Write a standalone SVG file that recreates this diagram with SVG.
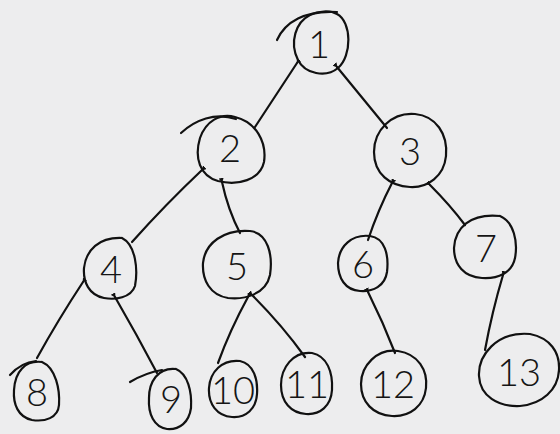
<svg xmlns="http://www.w3.org/2000/svg" width="560" height="434" viewBox="0 0 560 434">
  <style>
    .ring { fill: none; stroke: #111; stroke-width: 2.2; stroke-linecap: round; }
    .edge { fill: none; stroke: #111; stroke-width: 2.2; stroke-linecap: round; marker-start: url(#tip); }
    .num { font-family: "Lato", "Liberation Sans", sans-serif; font-weight: 300; font-size: 38px; fill: #151515; text-anchor: middle; }
  </style>
  <defs>
    <marker id="tip" viewBox="0 0 10 10" refX="2" refY="5" markerWidth="5" markerHeight="5" orient="auto-start-reverse" markerUnits="userSpaceOnUse">
      <path d="M10,0 L0,5 L10,10 z" fill="#111"/>
    </marker>
  </defs>
  <rect width="560" height="434" fill="#ededee"/>

  <g id="connectors">
    <path class="edge" d="M297,63 L255,127"/>
    <path class="edge" d="M337,67 Q360,95 387,128"/>
    <path class="edge" d="M202,170 Q165,205 132,242"/>
    <path class="edge" d="M222,182 Q228,210 240,233"/>
    <path class="edge" d="M392,183 Q378,210 368,240"/>
    <path class="edge" d="M430,185 Q450,205 465,225"/>
    <path class="edge" d="M83,282 Q58,320 37,358"/>
    <path class="edge" d="M115,297 Q137,335 157,373"/>
    <path class="edge" d="M248,297 Q230,330 218,363"/>
    <path class="edge" d="M252,295 Q282,325 305,357"/>
    <path class="edge" d="M368,292 Q383,322 395,353"/>
    <path class="edge" d="M503,275 Q492,312 485,350"/>
  </g>

  <g id="node-1">
    <path class="ring" d="M337,14 C352,22 352,56 338,68 C326,78 305,74 298,60 C289,42 296,22 310,15 C318,11 330,10 337,14"/>
    <path class="ring" d="M277,40 C285,22 305,10 337,12"/>
    <text class="num" x="319" y="58">1</text>
  </g>
  <g id="node-2">
    <path class="ring" d="M235,117 C256,122 267,142 264,162 C260,180 238,186 218,181 C200,176 194,158 200,138 C206,121 220,113 235,117"/>
    <path class="ring" d="M181,133 C195,120 215,112 236,119"/>
    <text class="num" x="230" y="162">2</text>
  </g>
  <g id="node-3">
    <path class="ring" d="M415,114 C436,116 448,134 446,156 C444,176 428,188 410,187 C390,186 374,174 374,152 C374,130 392,112 415,114"/>
    <text class="num" x="410" y="165">3</text>
  </g>
  <g id="node-4">
    <path class="ring" d="M122,238 C136,245 138,270 135,286 C131,298 115,300 104,298 C89,295 83,282 84,268 C86,250 99,237 122,238"/>
    <text class="num" x="111" y="283">4</text>
  </g>
  <g id="node-5">
    <path class="ring" d="M250,231 C268,233 273,255 270,275 C266,294 245,300 228,298 C210,295 202,280 203,263 C205,243 224,229 250,231"/>
    <text class="num" x="237" y="280">5</text>
  </g>
  <g id="node-6">
    <path class="ring" d="M370,236 C385,238 389,255 387,272 C385,286 373,292 360,291 C345,290 338,278 338,263 C339,246 352,234 370,236"/>
    <text class="num" x="363" y="278">6</text>
  </g>
  <g id="node-7">
    <path class="ring" d="M500,216 C514,222 518,242 515,258 C512,273 498,279 482,278 C464,277 454,265 454,248 C455,228 470,213 500,216"/>
    <text class="num" x="486" y="262">7</text>
  </g>
  <g id="node-8">
    <path class="ring" d="M42,362 C56,368 60,390 59,405 C58,418 45,422 32,420 C18,417 13,404 14,390 C15,372 25,360 42,362"/>
    <path class="ring" d="M10,375 C18,366 26,362 36,361"/>
    <text class="num" x="37" y="406">8</text>
  </g>
  <g id="node-9">
    <path class="ring" d="M176,369 C188,374 192,392 191,408 C189,422 180,430 167,429 C154,427 148,414 149,398 C149,382 158,367 176,369"/>
    <path class="ring" d="M130,382 C140,376 150,372 162,370"/>
    <text class="num" x="171" y="413">9</text>
  </g>
  <g id="node-10">
    <path class="ring" d="M240,361 C254,364 258,380 257,394 C256,409 246,418 232,417 C217,416 208,404 209,388 C210,372 222,359 240,361"/>
    <text class="num" x="233" y="404" font-size="32">10</text>
  </g>
  <g id="node-11">
    <path class="ring" d="M312,353 C327,356 333,372 332,390 C331,406 320,415 306,414 C291,413 281,402 281,385 C281,368 293,351 312,353"/>
    <text class="num" x="307" y="398" font-size="32">11</text>
  </g>
  <g id="node-12">
    <path class="ring" d="M398,351 C418,354 428,370 426,388 C424,406 410,417 392,416 C373,415 361,402 361,384 C361,366 377,348 398,351"/>
    <text class="num" x="393" y="398" font-size="34">12</text>
  </g>
  <g id="node-13">
    <path class="ring" d="M530,334 C550,338 560,352 559,370 C558,390 542,404 520,406 C498,407 480,396 479,376 C478,356 496,331 530,334"/>
    <text class="num" x="519" y="386" font-size="36">13</text>
  </g>
</svg>
